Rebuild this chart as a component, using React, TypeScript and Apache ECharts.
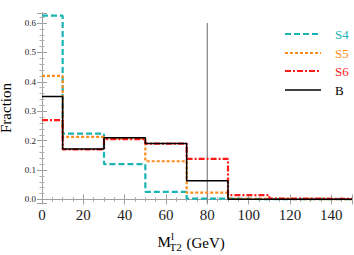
import React, { useEffect, useRef } from "react";
import * as echarts from "echarts";

// bin edges (GeV) and per-bin fractions
const binEdges = [0, 10, 30, 50, 70, 90, 110, 130, 150];
const s4Values = [0.625, 0.224, 0.12, 0.026, 0.003, 0.001, 0.001, 0.001];
const s5Values = [0.42, 0.213, 0.208, 0.13, 0.023, 0.002, 0.001, 0.001];
const s6Values = [0.27, 0.17, 0.205, 0.19, 0.138, 0.015, 0.003, 0.002];
const bValues = [0.35, 0.172, 0.21, 0.19, 0.064, 0.001, 0.001, 0.001];
const seriesNames = ["S4", "S5", "S6", "B"];
const refLineX = 80;
const refLineTop = 0.6;
const xTickLabels = ["0", "20", "40", "60", "80", "100", "120", "140"];
const yTickLabels = ["0.0", "0.1", "0.2", "0.3", "0.4", "0.5", "0.6"];

const Y_MIN = -0.012;
const Y_MAX = 0.634;
const FONT = "Liberation Serif";

function toSteps(values: number[]) {
  const pts: [number, number][] = values.map((v, i) => [binEdges[i], v]);
  pts.push([binEdges[binEdges.length - 1], values[values.length - 1]]);
  return pts;
}

export default function App() {
  const ref = useRef<HTMLDivElement>(null);
  useEffect(() => {
    document.body.style.margin = "0";
    if (!ref.current) return;
    const chart = echarts.init(ref.current, null, { renderer: "svg" });
    const colors = ["#1bb3b3", "#ff8c1a", "#ff1a1a", "#000000"];
    const dashes: any[] = [[6, 3], [3, 2], [6, 2, 2, 2], "solid"];
    const widths = [2.2, 2.2, 2.2, 1.5];
    const allValues = [s4Values, s5Values, s6Values, bValues];

    const frameAxisLine = { show: true, lineStyle: { color: "#a0a0a0", width: 1 } };
    const tick = { show: true, inside: true, length: 5, lineStyle: { color: "#a0a0a0" } };
    const minorTick = { show: true, splitNumber: 5, length: 2.5, lineStyle: { color: "#b0b0b0" } };

    const fmtX = (v: number) => {
      const s = String(Math.round(v));
      return Math.abs(v - Math.round(v)) < 1e-6 && xTickLabels.includes(s) && v < 149 ? s : "";
    };
    const fmtY = (v: number) => {
      const s = v.toFixed(1);
      return Math.abs(v * 10 - Math.round(v * 10)) < 1e-6 && yTickLabels.includes(s) ? s : "";
    };

    const legendGraphics: any[] = [];
    const legendY = [34, 53, 71, 90];
    seriesNames.forEach((n, i) => {
      legendGraphics.push({
        type: "line",
        shape: { x1: 285, y1: legendY[i], x2: 321, y2: legendY[i] },
        style: {
          stroke: colors[i],
          lineWidth: widths[i],
          lineDash: dashes[i] === "solid" ? null : dashes[i],
        },
      });
      legendGraphics.push({
        type: "text",
        x: 335,
        y: legendY[i],
        style: {
          text: n,
          fill: colors[i],
          font: `13px "${FONT}"`,
          verticalAlign: "middle",
          align: "left",
        },
      });
    });

    chart.setOption({
      animation: false,
      grid: { left: 42, right: 2, top: 13, bottom: 52, containLabel: false, outerBoundsMode: "none" },
      xAxis: [
        {
          type: "value",
          position: "bottom",
          min: 0,
          max: 150,
          interval: 20,
          axisLine: frameAxisLine,
          axisTick: tick,
          minorTick: { ...minorTick, splitNumber: 4 },
          splitLine: { show: false },
          axisLabel: {
            formatter: fmtX,
            fontFamily: FONT,
            fontSize: 15,
            color: "#222",
            margin: 4,
            showMaxLabel: false,
          },
        },
        {
          type: "value",
          position: "top",
          min: 0,
          max: 150,
          interval: 20,
          axisLine: frameAxisLine,
          axisTick: tick,
          minorTick: { ...minorTick, splitNumber: 4 },
          splitLine: { show: false },
          axisLabel: { show: false },
        },
      ],
      yAxis: [
        {
          type: "value",
          position: "left",
          min: Y_MIN,
          max: Y_MAX,
          minInterval: 0.1,
          maxInterval: 0.1,
          axisLine: frameAxisLine,
          axisTick: tick,
          minorTick,
          splitLine: { show: false },
          axisLabel: {
            formatter: fmtY,
            fontFamily: FONT,
            fontSize: 9,
            color: "#222",
            margin: 6,
          },
          name: "Fraction",
          nameLocation: "middle",
          nameRotate: 90,
          nameGap: 22,
          nameTextStyle: { fontFamily: FONT, fontSize: 15, color: "#000", lineHeight: 15 },
        },
        {
          type: "value",
          position: "right",
          min: Y_MIN,
          max: Y_MAX,
          minInterval: 0.1,
          maxInterval: 0.1,
          axisLine: frameAxisLine,
          axisTick: tick,
          minorTick,
          splitLine: { show: false },
          axisLabel: { show: false },
        },
      ],
      series: [
        {
          name: "ref",
          type: "line",
          xAxisIndex: 0,
          yAxisIndex: 0,
          symbol: "none",
          data: [
            [refLineX, Y_MIN],
            [refLineX, refLineTop],
          ],
          lineStyle: { color: "#8c8c8c", width: 1.3 },
          silent: true,
        },
        ...seriesNames.map((n, i) => ({
          name: n,
          type: "line",
          xAxisIndex: 0,
          yAxisIndex: 0,
          step: "end",
          symbol: "none",
          data: toSteps(allValues[i]),
          lineStyle: { color: colors[i], width: widths[i], type: dashes[i] },
          z: 2 + i,
        })),
      ],
      graphic: [
        ...legendGraphics,
        {
          type: "text",
          x: 157.5,
          y: 242,
          style: { text: "M", font: `15px "${FONT}"`, fill: "#000", verticalAlign: "middle" },
        },
        {
          type: "text",
          x: 171,
          y: 236,
          style: { text: "l", font: `11px "${FONT}"`, fill: "#000", verticalAlign: "middle" },
        },
        {
          type: "text",
          x: 169.5,
          y: 247,
          style: { text: "T2", font: `11px "${FONT}"`, fill: "#000", verticalAlign: "middle" },
        },
        {
          type: "text",
          x: 186.5,
          y: 242.5,
          style: { text: "(GeV)", font: `15px "${FONT}"`, fill: "#000", verticalAlign: "middle" },
        },
      ],
    });
    return () => chart.dispose();
  }, []);
  return <div ref={ref} style={{ width: 354, height: 255 }} />;
}
